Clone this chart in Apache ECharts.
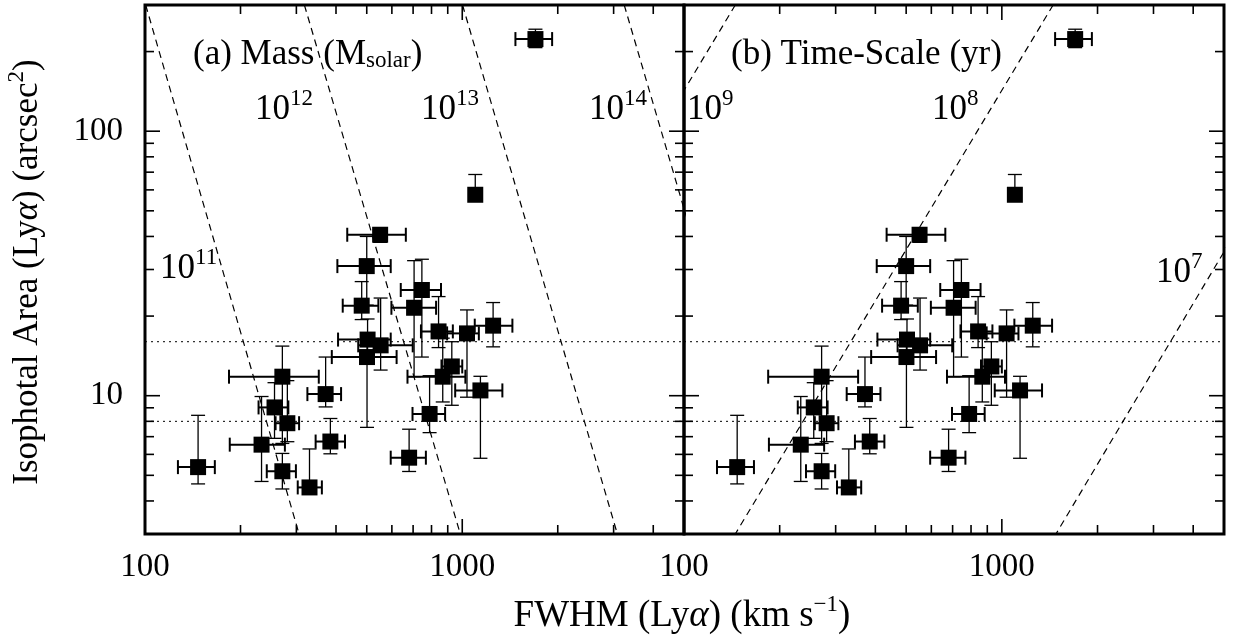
<!DOCTYPE html>
<html><head><meta charset="utf-8">
<script src="https://cdn.jsdelivr.net/npm/echarts@6/dist/echarts.min.js"></script>
<style>html,body{margin:0;padding:0;background:#fff}#c{width:1233px;height:644px}</style>
</head><body><div id="c"></div>
<script>
// ---- data ----
const fwhm   = [147,233,256,281,271,271,330,371,384,482,500,551,503,553,501,680,705,746,789,842,868,927,1035,1141,1251,1099,1701];
const fwhmLo = [127,185,228,258,184,242,303,325,345,420,404,434,406,470,388,595,598,640,697,741,672,860,896,950,1095,1099,1471];
const fwhmHi = [166,276,283,306,353,299,361,415,427,544,595,664,595,698,621,768,827,857,883,934,1023,1000,1128,1338,1439,1099,1920];
const area   = [5.37,6.53,9.03,7.87,11.8,5.18,4.5,10.14,6.71,21.9,30.9,40.6,16.3,15.5,14.0,5.83,21.5,25.1,8.53,17.5,11.8,12.9,17.2,10.47,18.4,57.5,223];
const areaLo = [4.64,4.74,6.9,6.7,6.6,4.44,4.35,9.07,6.03,19.4,22,38,13.5,12.5,7.59,5.17,11.8,14,7.25,15.2,9.47,9.2,9.87,5.8,15.3,57.5,207];
const areaHi = [8.43,9.93,11.2,11.4,15.4,6.05,6.29,14.0,8.2,27,40,43,19.5,23.4,17,7.47,32.4,32.8,11.9,23.7,16.5,16,21.1,11.84,22.5,68.6,243];

const xRange = [100, 5000];
const yRange = [3, 300];
const xMajorTicks = [100, 1000];
const xMinorTicks = [200,300,400,500,600,700,800,900,2000,3000,4000];
const yMajorTicks = [10, 100];
const yMinorTicks = [4,5,6,7,8,9,20,30,40,50,60,70,80,90,200];
const areaThresholds = [16, 8];

const massExponents   = ['11','12','13','14'];
const massFwhmAtTop   = [100.5, 318, 1002, 3240];   // FWHM where line meets area = 300
const massFwhmAtBottom= [306, 986, 3083, 10000];    // FWHM where line meets area = 3
const timeExponents   = ['9','8','7'];
const timeFwhmAtTop   = [145, 1450, 14500];
const timeFwhmAtBottom= [14.5, 145, 1480];

const FONT = '"Liberation Serif","Times New Roman",serif';

// ---- build option ----
const points = fwhm.map((f,i)=>[f, area[i], fwhmLo[i], fwhmHi[i], areaLo[i], areaHi[i]]);
const tickData = [];
xMajorTicks.forEach(v=>tickData.push([v, yRange[0], 0]));
xMinorTicks.forEach(v=>tickData.push([v, yRange[0], 1]));
yMajorTicks.forEach(v=>tickData.push([xRange[0], v, 2]));
yMinorTicks.forEach(v=>tickData.push([xRange[0], v, 3]));

function isMajor(v, list){ return list.some(m=>Math.abs(Math.log10(v)-Math.log10(m))<1e-6); }

const series = [];
[0,1].forEach(g=>{
  // ticks
  series.push({
    type:'custom', xAxisIndex:g, yAxisIndex:g, data:tickData, silent:true, z:5,
    encode:{x:0,y:1},
    renderItem:(params, api)=>{
      const v = api.value(0), w = api.value(1), k = api.value(2);
      const st = {stroke:'#000', lineWidth:1.6};
      if (k < 2) {
        const len = k===0 ? 15 : 9;
        const b = api.coord([v, yRange[0]]), t = api.coord([v, yRange[1]]);
        return {type:'group', children:[
          {type:'line', shape:{x1:b[0],y1:b[1],x2:b[0],y2:b[1]-len}, style:st},
          {type:'line', shape:{x1:t[0],y1:t[1],x2:t[0],y2:t[1]+len}, style:st}
        ]};
      } else {
        const len = k===2 ? 15 : 9;
        const l = api.coord([xRange[0], w]), r = api.coord([xRange[1], w]);
        return {type:'group', children:[
          {type:'line', shape:{x1:l[0],y1:l[1],x2:l[0]+len,y2:l[1]}, style:st},
          {type:'line', shape:{x1:r[0],y1:r[1],x2:r[0]-len,y2:r[1]}, style:st}
        ]};
      }
    }
  });
  // dotted thresholds
  areaThresholds.forEach(a=>{
    series.push({type:'line', xAxisIndex:g, yAxisIndex:g, data:[[xRange[0],a],[xRange[1],a]],
      symbol:'none', silent:true, z:2, lineStyle:{color:'#000', width:1, type:[2,4]}});
  });
  // model lines
  const tops = g===0 ? massFwhmAtTop : timeFwhmAtTop;
  const bots = g===0 ? massFwhmAtBottom : timeFwhmAtBottom;
  tops.forEach((ft,i)=>{
    series.push({type:'line', xAxisIndex:g, yAxisIndex:g, clip:true,
      data:[[ft, yRange[1]],[bots[i], yRange[0]]],
      symbol:'none', silent:true, z:2, lineStyle:{color:'#000', width:1.2, type:[7,5]}});
  });
  // error bars
  series.push({
    type:'custom', xAxisIndex:g, yAxisIndex:g, data:points, silent:true, z:3,
    encode:{x:0,y:1},
    renderItem:(params, api)=>{
      const f=api.value(0), a=api.value(1), fl=api.value(2), fh=api.value(3), al=api.value(4), ah=api.value(5);
      const c = api.coord([f,a]);
      const pl = api.coord([fl,a]), ph = api.coord([fh,a]);
      const pd = api.coord([f,al]), pu = api.coord([f,ah]);
      const hs = {stroke:'#000', lineWidth:2};
      const vs = {stroke:'#000', lineWidth:1.3};
      const ch = [];
      const cap = 7;
      if (fh > fl) {
        ch.push({type:'line', shape:{x1:pl[0],y1:c[1],x2:ph[0],y2:c[1]}, style:hs});
        ch.push({type:'line', shape:{x1:pl[0],y1:c[1]-cap,x2:pl[0],y2:c[1]+cap}, style:hs});
        ch.push({type:'line', shape:{x1:ph[0],y1:c[1]-cap,x2:ph[0],y2:c[1]+cap}, style:hs});
      }
      if (ah > al) {
        ch.push({type:'line', shape:{x1:c[0],y1:pd[1],x2:c[0],y2:pu[1]}, style:vs});
        ch.push({type:'line', shape:{x1:c[0]-cap,y1:pd[1],x2:c[0]+cap,y2:pd[1]}, style:vs});
        ch.push({type:'line', shape:{x1:c[0]-cap,y1:pu[1],x2:c[0]+cap,y2:pu[1]}, style:vs});
      }
      return {type:'group', children:ch};
    }
  });
  // markers
  series.push({type:'scatter', xAxisIndex:g, yAxisIndex:g, data:points.map(p=>[p[0],p[1]]),
    symbol:'rect', symbolSize:16, itemStyle:{color:'#000', opacity:1}, z:4, silent:true});
});

const axisLabelBase = {color:'#000', fontFamily:FONT, fontSize:33};
const option = {
  animation:false,
  backgroundColor:'#fff',
  grid:[
    {left:145, top:5, width:539, height:529, show:true, borderColor:'#000', borderWidth:3, backgroundColor:'rgba(0,0,0,0)'},
    {left:684, top:5, width:540, height:529, show:true, borderColor:'#000', borderWidth:3, backgroundColor:'rgba(0,0,0,0)'}
  ],
  xAxis:[0,1].map(g=>({type:'log', logBase:10, gridIndex:g, min:xRange[0], max:xRange[1],
    axisLine:{show:false}, axisTick:{show:false}, splitLine:{show:false},
    axisLabel:Object.assign({}, axisLabelBase, {margin:17, showMaxLabel:false,
      formatter:v=>isMajor(v, xMajorTicks)? String(Math.round(v)) : ''})})),
  yAxis:[0,1].map(g=>({type:'log', logBase:10, gridIndex:g, min:yRange[0], max:yRange[1],
    axisLine:{show:false}, axisTick:{show:false}, splitLine:{show:false},
    axisLabel:Object.assign({}, axisLabelBase, {show:g===0, margin:22,
      formatter:v=>isMajor(v, yMajorTicks)? String(Math.round(v)) : ''})})),
  series:series,
  graphic:[]
};

function supText(base, sup){ return '{B|'+base+'}{s|'+sup+'}'; }
const supRich = {
  b:{fontFamily:FONT, fontSize:35, lineHeight:34, fill:'#000', color:'#000'},
  B:{fontFamily:FONT, fontSize:35, lineHeight:46, fill:'#000', color:'#000'},
  X:{fontFamily:FONT, fontSize:37, lineHeight:46, fill:'#000', color:'#000'},
  XI:{fontFamily:FONT, fontSize:37, lineHeight:46, fontStyle:'italic', fill:'#000', color:'#000'},
  s:{fontFamily:FONT, fontSize:23, lineHeight:11, verticalAlign:'top', fill:'#000', color:'#000'},
  d:{fontFamily:FONT, fontSize:23, lineHeight:19, verticalAlign:'bottom', fill:'#000', color:'#000'},
  i:{fontFamily:FONT, fontSize:35, lineHeight:46, fontStyle:'italic', fill:'#000', color:'#000'}
};
function txt(x, y, text, extra){
  return Object.assign({type:'text', x:x, y:y, z:100, silent:true,
    style:{text:text, rich:supRich, verticalAlign:'middle', align:'left', fill:'#000', font:'35px '+FONT}}, extra||{});
}
const labelPos = {
  m11:[160,269], m12:[255,110], m13:[421,110], m14:[589,110],
  t9:[687,110], t8:[932,110], t7:[1156,273]
};
option.graphic = [
  txt(193, 55, '{b|(a) Mass (M}{d|solar}{b|)}'),
  txt(731, 55, '{b|(b) Time-Scale (yr)}'),
  txt(labelPos.m11[0], labelPos.m11[1], supText('10', massExponents[0])),
  txt(labelPos.m12[0], labelPos.m12[1], supText('10', massExponents[1])),
  txt(labelPos.m13[0], labelPos.m13[1], supText('10', massExponents[2])),
  txt(labelPos.m14[0], labelPos.m14[1], supText('10', massExponents[3])),
  txt(labelPos.t9[0], labelPos.t9[1], supText('10', timeExponents[0])),
  txt(labelPos.t8[0], labelPos.t8[1], supText('10', timeExponents[1])),
  txt(labelPos.t7[0], labelPos.t7[1], supText('10', timeExponents[2])),
  {type:'text', x:682, y:616, z:100, silent:true,
    style:{text:'{X|FWHM (Ly}{XI|α}{X|) (km s}{s|−1}{X|)}', rich:supRich, align:'center', verticalAlign:'middle', fill:'#000'}},
  {type:'text', x:28, y:272, rotation:Math.PI/2, z:100, silent:true,
    style:{text:'{B|Isophotal Area (Ly}{i|α}{B|) (arcsec}{s|2}{B|)}', rich:supRich, align:'center', verticalAlign:'middle', fill:'#000'}}
];

const chart = echarts.init(document.getElementById('c'), null, {renderer:'canvas'});
chart.setOption(option);
</script>
</body></html>
